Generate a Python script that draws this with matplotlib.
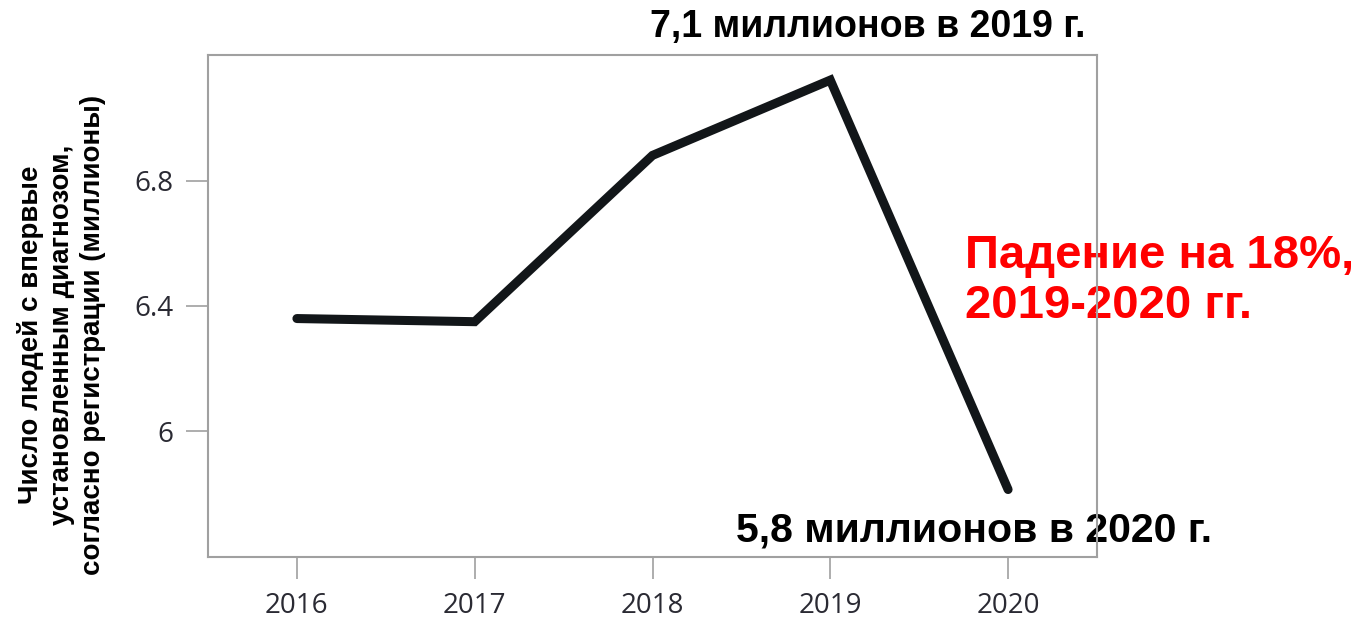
import matplotlib
matplotlib.use("Agg")
import matplotlib.pyplot as plt

years = [2016, 2017, 2018, 2019, 2020]
values = [6.36, 6.35, 6.88, 7.12, 5.815]
yticks = [6.0, 6.4, 6.8]
ytick_labels = ["6", "6.4", "6.8"]
ylabel = "Число людей с впервые\nустановленным диагнозом,\nсогласно регистрации (миллионы)"
ann_top = "7,1 миллионов в 2019 г."
ann_bottom = "5,8 миллионов в 2020 г."
ann_red = "Падение на 18%,\n2019-2020 гг."

W, H = 1360, 618
fig = plt.figure(figsize=(W/100, H/100), dpi=100)
ax = fig.add_axes([208/W, 1-557/H, (1097-208)/W, (557-55)/H])

ax.plot(years, values, color="#121619", lw=6.5, solid_capstyle="round", solid_joinstyle="miter")
ax.set_xlim(2015.5, 2020.5)
ax.set_ylim(5.6, 7.2)
ax.set_xticks(years)
ax.set_xticklabels([str(y) for y in years])
ax.set_yticks(yticks)
ax.set_yticklabels(ytick_labels)
for s in ax.spines.values():
    s.set_color("#a0a0a0")
    s.set_linewidth(1.5)
    s.set_zorder(5)
ax.tick_params(axis="both", direction="out", length=16, width=1.2, color="#a0a0a0",
               labelsize=20, labelcolor="#2a2a33", pad=9)
for lab in ax.get_xticklabels() + ax.get_yticklabels():
    lab.set_family("Open Sans")

fig.text(62/W, 1-335/H, ylabel, rotation=90, ha="center", va="center",
         fontsize=20, fontweight="bold", family="Liberation Sans", linespacing=1.25)

tr = fig.transFigure
ax.text(868/W, 1-27/H, ann_top, ha="center", va="center", fontsize=27,
        fontweight="bold", family="Liberation Sans", color="black",
        transform=tr, clip_on=False, zorder=2)
ax.text(974/W, 1-530/H, ann_bottom, ha="center", va="center", fontsize=29.5,
        fontweight="bold", family="Liberation Sans", color="black",
        transform=tr, clip_on=False, zorder=2)
ax.text(965/W, 1-281/H, ann_red, ha="left", va="center", fontsize=34,
        fontweight="bold", family="Liberation Sans", color="#ff0000", linespacing=1.2,
        transform=tr, clip_on=False, zorder=2)

fig.savefig("out.png", dpi=100, facecolor="white")
